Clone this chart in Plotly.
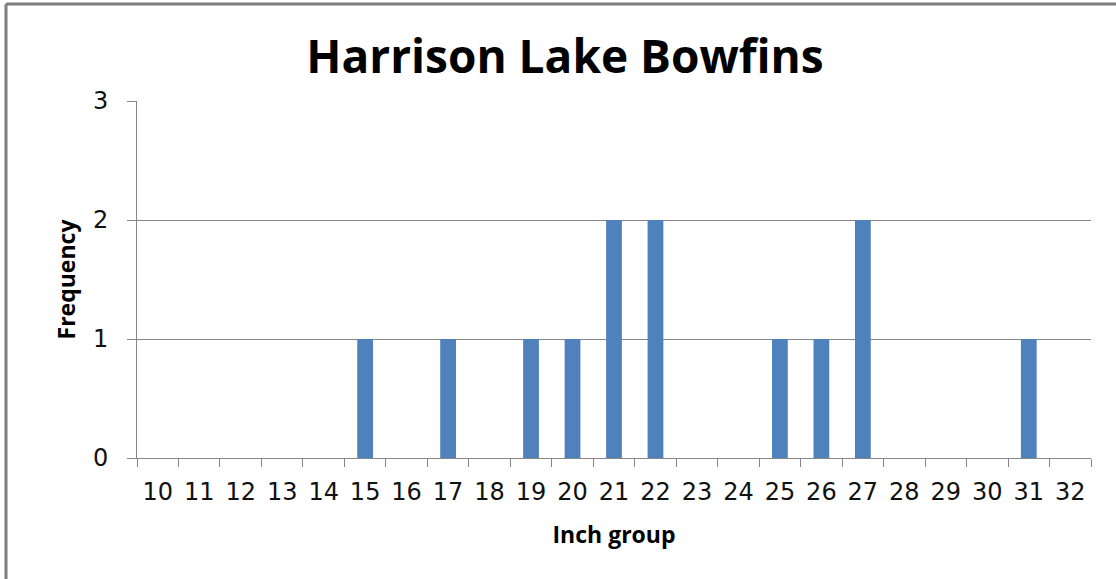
import plotly.graph_objects as go

# Frequency of bowfins caught per inch group
inch_groups = [str(v) for v in range(10, 33)]
frequency = [0, 0, 0, 0, 0, 1, 0, 1, 0, 1, 1, 2, 2, 0, 0, 1, 1, 2, 0, 0, 0, 1, 0]
y_ticks = [0, 1, 2, 3]

W, H = 1116, 579
L, R, T, B = 137, 25, 101, 121
pw, ph = W - L - R, H - T - B


def px_to_paper_x(px):
    return (px - L) / pw


def px_to_paper_y(py):
    return (H - B - py) / ph


fig = go.Figure(
    go.Bar(
        x=inch_groups,
        y=frequency,
        marker=dict(color="#4F81BD", line=dict(width=0)),
        width=0.38,
    )
)

grey = "#868686"
tick_font = dict(size=24, family="DejaVu Sans", color="#111111")
label_font = dict(size=23, family="Open Sans", color="black")

fig.update_layout(
    width=W,
    height=H,
    margin=dict(l=L, r=R, t=T, b=B),
    paper_bgcolor="white",
    plot_bgcolor="white",
    showlegend=False,
    title=dict(
        text="<b>Harrison Lake Bowfins</b>",
        font=dict(family="Open Sans", size=46, color="black"),
        x=565 / W,
        xanchor="center",
        xref="container",
        y=1 - 57 / H,
        yanchor="middle",
    ),
    font=dict(family="Open Sans", color="black"),
)

fig.update_xaxes(
    type="category",
    categoryorder="array",
    categoryarray=inch_groups,
    showline=True,
    linecolor=grey,
    linewidth=1,
    ticks="outside",
    ticklen=8,
    tickcolor=grey,
    tickson="boundaries",
    showgrid=False,
    tickfont=tick_font,
    ticklabelstandoff=12,
    title=dict(text="<b>Inch group</b>", font=label_font, standoff=22),
)

fig.update_yaxes(
    range=[0, 3],
    tickvals=y_ticks,
    showline=True,
    linecolor=grey,
    linewidth=1,
    ticks="outside",
    ticklen=9,
    tickcolor=grey,
    showgrid=True,
    gridcolor=grey,
    gridwidth=1,
    zeroline=False,
    tickfont=tick_font,
    ticklabelstandoff=14,
    title=dict(text="<b>Frequency</b>", font=label_font, standoff=10),
)

# outer chart frame (top and left edges)
fig.add_shape(
    type="line", xref="paper", yref="paper",
    x0=px_to_paper_x(6), x1=px_to_paper_x(W + 5),
    y0=px_to_paper_y(4), y1=px_to_paper_y(4),
    line=dict(color="#7F7F7F", width=3),
)
fig.add_shape(
    type="line", xref="paper", yref="paper",
    x0=px_to_paper_x(6), x1=px_to_paper_x(6),
    y0=px_to_paper_y(4), y1=px_to_paper_y(H + 5),
    line=dict(color="#7F7F7F", width=3),
)

fig.write_html("out.html")
